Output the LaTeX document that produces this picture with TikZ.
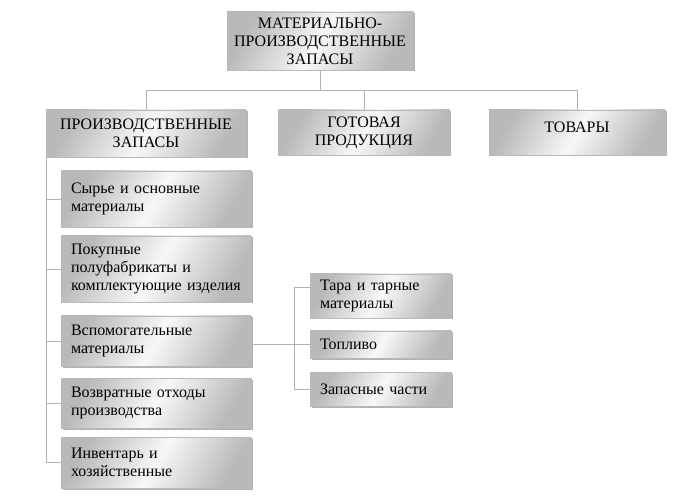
\documentclass[tikz,border=0pt]{standalone}
\usepackage{fontspec}
\setmainfont{Liberation Serif}
\usetikzlibrary{shadows}
\begin{document}
\begin{tikzpicture}[x=1pt,y=-1pt,
  box/.style={draw=gray!55,line width=0.4pt,inner sep=2pt,outer sep=0pt,
    shading=axis,left color=gray!55,right color=gray!55,middle color=gray!6,shading angle=60,
    drop shadow={shadow xshift=1.5pt,shadow yshift=-1.5pt,fill=gray!60,opacity=1},
    font=\fontsize{16}{18}\selectfont},
  cbox/.style={box,align=center},
  lbox/.style={box,align=left,text width=#1,inner xsep=10pt},
  ln/.style={draw=gray!60,line width=0.8pt}]
\useasboundingbox (0,0) rectangle (686,497);
\node[cbox,minimum width=186pt,minimum height=58pt] (top) at (320,41) {МАТЕРИАЛЬНО-\\ПРОИЗВОДСТВЕННЫЕ\\ЗАПАСЫ};
\node[cbox,minimum width=200pt,minimum height=47pt] (pz) at (146,133.5) {ПРОИЗВОДСТВЕННЫЕ\\ЗАПАСЫ};
\node[cbox,minimum width=171pt,minimum height=45pt] (gp) at (364,132.5) {ГОТОВАЯ\\ПРОДУКЦИЯ};
\node[cbox,minimum width=176pt,minimum height=45pt,anchor=north] (tv) at (577,110) {\raisebox{10pt}{ТОВАРЫ}};
\coordinate (hub) at (320,90);
\draw[ln] (top.south) -- (hub);
\draw[ln] (146,90) -- (577,90);
\draw[ln] (146,90) -- (pz.north);
\draw[ln] (364,90) -- (gp.north);
\draw[ln] (577,90) -- (tv.north);
\tikzset{sm/.style={lbox=170pt,anchor=north west,minimum width=185pt}}
\node[sm,minimum height=56pt] (s1) at (61,171) {Сырье и основные\\материалы};
\node[sm,minimum height=66pt] (s2) at (61,236) {Покупные\\полуфабрикаты и\\комплектующие изделия};
\node[sm,minimum height=50pt] (s3) at (61,316) {Вспомогательные\\материалы};
\node[sm,minimum height=50pt] (s4) at (61,378) {Возвратные отходы\\производства};
\node[sm,minimum height=51pt] (s5) at (61,437) {Инвентарь и\\хозяйственные};
\coordinate (lv) at (46,157);
\draw[ln] (lv) -- (46,462);
\foreach \n in {s1,s2,s3,s4,s5}{\draw[ln] (\n.west -| lv) -- (\n.west);}
\tikzset{rs/.style={lbox=121pt,anchor=north west,minimum width=141pt}}
\node[rs,minimum height=44pt] (r1) at (310,274) {Тара и тарные\\материалы};
\node[rs,minimum height=27pt] (r2) at (310,331) {Топливо};
\node[rs,minimum height=34pt] (r3) at (310,372) {Запасные части};
\coordinate (rv) at (294,287);
\draw[ln] (s3.east |- r2.west) -- (r2.west);
\draw[ln] (rv) -- (r3.west -| rv) -- (r3.west);
\draw[ln] (rv) -- (r1.west |- rv);
\end{tikzpicture}
\end{document}
